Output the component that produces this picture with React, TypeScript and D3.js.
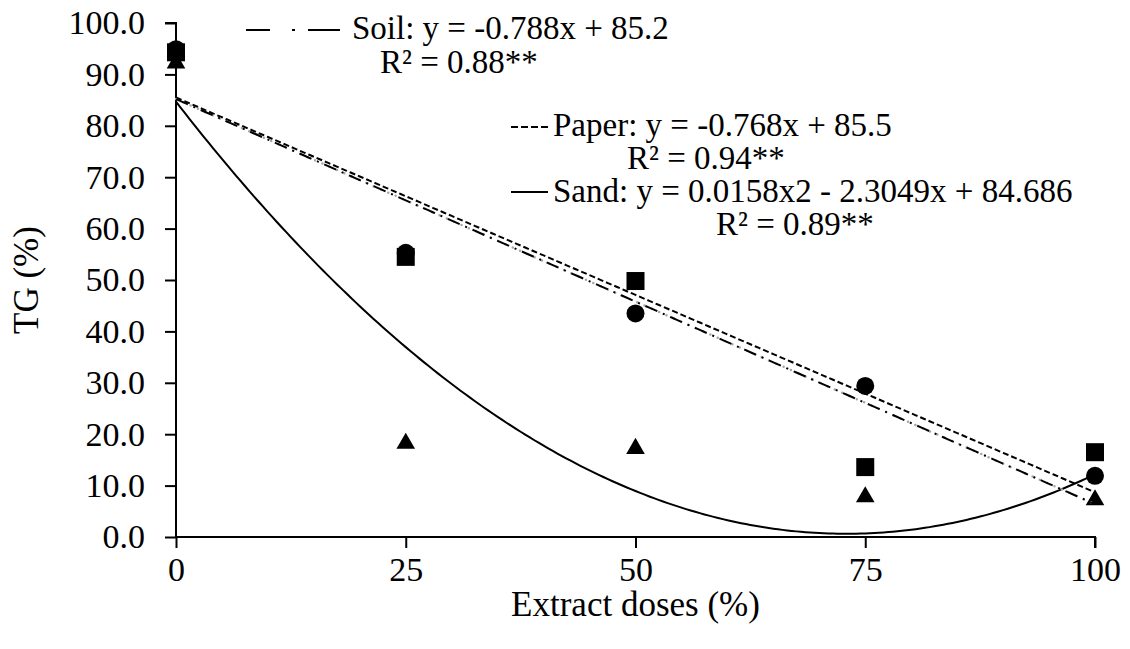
import React, { useEffect, useRef } from 'react';
import * as d3 from 'd3';

// measured germination (TG %) per extract dose
const doses = [0, 25, 50, 75, 100];
const soilTG = [94.3, 54.5, 49.8, 13.6, 16.5];
const paperTG = [94.9, 55.3, 43.5, 29.4, 11.9];
const sandTG = [92.2, 18.2, 17.2, 7.8, 7.2];

// trendline coefficients, constant term first
const soilFit = [85.2, -0.788];
const paperFit = [85.5, -0.768];
const sandFit = [84.686, -2.3049, 0.0158];

const yTicks = [0, 10, 20, 30, 40, 50, 60, 70, 80, 90, 100];
const xTicks = [0, 25, 50, 75, 100];

const legendLines = [
  { text: 'Soil: y = -0.788x + 85.2', x: 352, y: 39 },
  { text: 'R² = 0.88**', x: 380, y: 73 },
  { text: 'Paper: y = -0.768x + 85.5', x: 553, y: 136 },
  { text: 'R² = 0.94**', x: 627, y: 169 },
  { text: 'Sand: y = 0.0158x2 - 2.3049x + 84.686', x: 553, y: 202 },
  { text: 'R² = 0.89**', x: 716, y: 235 },
];

const W = 1130;
const H = 649;
const FONT = '"Liberation Serif", "Times New Roman", serif';

const poly = (c, x) => c.reduce((s, k, i) => s + k * Math.pow(x, i), 0);

const Chart = () => {
  const svgRef = useRef(null);

  useEffect(() => {
    const svg = d3.select(svgRef.current);
    svg.selectAll('*').remove();

    const x = d3.scaleLinear().domain([0, 100]).range([176, 1095]);
    const y = d3.scaleLinear().domain([0, 100]).range([537, 23]);

    // axes
    const yAxis = svg.append('g')
      .attr('transform', `translate(${x(0)},0)`)
      .call(d3.axisLeft(y).tickValues(yTicks).tickSize(11).tickPadding(20).tickFormat(d3.format('.1f')));
    const xAxis = svg.append('g')
      .attr('transform', `translate(0,${y(0)})`)
      .call(d3.axisBottom(x).tickValues(xTicks).tickSize(11).tickPadding(9).tickFormat(d3.format('d')));

    [yAxis, xAxis].forEach(a => {
      a.attr('font-family', FONT);
      a.select('.domain').attr('stroke', '#000').attr('stroke-width', 2);
      a.selectAll('.tick line').attr('stroke', '#000').attr('stroke-width', 2);
      a.selectAll('.tick text').attr('fill', '#000').style('font-family', FONT).style('font-size', '34px');
    });
    // drop the outer ticks d3 adds to the domain path
    yAxis.select('.domain').attr('d', `M-11,${y(100)}H0V${y(0)}`);
    xAxis.select('.domain').attr('d', `M${x(0)},0H${x(100)}V11`);

    // axis titles
    svg.append('text')
      .attr('x', (x(0) + x(100)) / 2)
      .attr('y', 616)
      .attr('text-anchor', 'middle')
      .style('font-family', FONT)
      .style('font-size', '35px')
      .text('Extract doses (%)');
    svg.append('text')
      .attr('transform', `translate(38,${(y(0) + y(100)) / 2}) rotate(-90)`)
      .attr('text-anchor', 'middle')
      .style('font-family', FONT)
      .style('font-size', '35px')
      .text('TG (%)');

    // markers
    const g = svg.append('g');
    g.selectAll('.soil').data(doses).enter().append('rect')
      .attr('x', (d) => x(d) - 9)
      .attr('y', (d, i) => y(soilTG[i]) - 9)
      .attr('width', 18).attr('height', 18).attr('fill', '#000');
    g.selectAll('.paper').data(doses).enter().append('circle')
      .attr('cx', (d) => x(d))
      .attr('cy', (d, i) => y(paperTG[i]))
      .attr('r', 9).attr('fill', '#000');
    const tri = d3.symbol().type(d3.symbolTriangle).size(150);
    g.selectAll('.sand').data(doses).enter().append('path')
      .attr('d', tri)
      .attr('transform', (d, i) => `translate(${x(d)},${y(sandTG[i])})`)
      .attr('fill', '#000');

    // trendlines
    const samples = d3.range(0, 100.01, 0.5);
    const line = (c) => d3.line().x((d) => x(d)).y((d) => y(poly(c, d)))(samples);

    svg.append('path').attr('d', line(sandFit))
      .attr('fill', 'none').attr('stroke', '#000').attr('stroke-width', 2);
    svg.append('path').attr('d', line(paperFit))
      .attr('fill', 'none').attr('stroke', '#000').attr('stroke-width', 2)
      .attr('stroke-dasharray', '6,3');
    svg.append('path').attr('d', line(soilFit))
      .attr('fill', 'none').attr('stroke', '#a6a6a6').attr('stroke-width', 2.5)
      .attr('stroke-linecap', 'round').attr('stroke-dasharray', '0,8');
    svg.append('path').attr('d', line(soilFit))
      .attr('fill', 'none').attr('stroke', '#000').attr('stroke-width', 2)
      .attr('stroke-dasharray', '13,6,2,6');

    // legend text
    svg.selectAll('.leg').data(legendLines).enter().append('text')
      .attr('x', (d) => d.x).attr('y', (d) => d.y)
      .style('font-family', FONT).style('font-size', '33px')
      .text((d) => d.text);

    // legend line samples
    const sample = svg.append('g').attr('stroke', '#000').attr('stroke-width', 2);
    sample.append('line').attr('x1', 246).attr('x2', 270).attr('y1', 30).attr('y2', 30);
    sample.append('line').attr('x1', 292).attr('x2', 295).attr('y1', 30).attr('y2', 30);
    sample.append('line').attr('x1', 308).attr('x2', 340).attr('y1', 30).attr('y2', 30);
    sample.append('line').attr('x1', 511).attr('x2', 548).attr('y1', 127).attr('y2', 127)
      .attr('stroke-dasharray', '7,3');
    sample.append('line').attr('x1', 511).attr('x2', 548).attr('y1', 192).attr('y2', 192);
  }, []);

  return <svg ref={svgRef} width={W} height={H} style={{ position: 'absolute', left: 0, top: 0, background: '#fff' }}></svg>;
};

export default function App() {
  return <Chart />;
}
